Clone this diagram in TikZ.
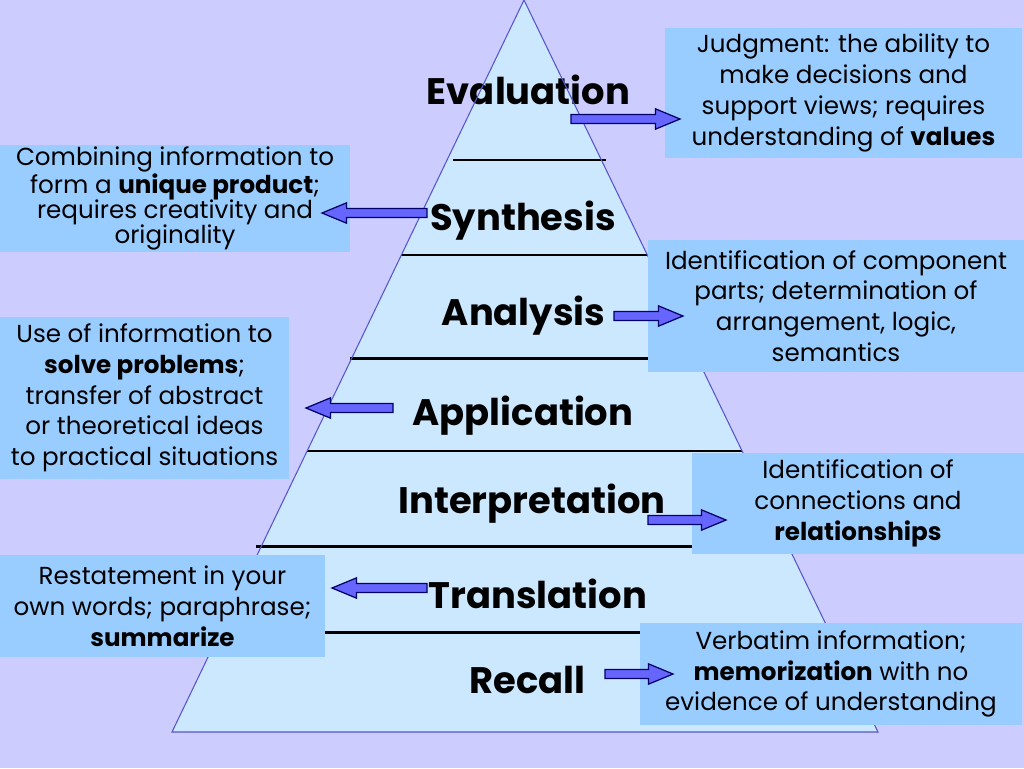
\documentclass[tikz,border=0pt]{standalone}
\usepackage{fontspec}
\setmainfont{Poppins}
\usetikzlibrary{calc}
\definecolor{bgviolet}{RGB}{204,204,255}
\definecolor{pyrblue}{RGB}{204,232,255}
\definecolor{boxblue}{RGB}{153,204,255}
\definecolor{arrowfill}{RGB}{102,102,255}
\definecolor{arrowline}{RGB}{0,0,102}
\definecolor{edgeblue}{RGB}{85,85,204}
\def\blockarrow(#1)(#2){\draw[arrowbody] let \p1=(#1), \p2=(#2), \n1={ifthenelse(\x2>\x1,1,-1)} in (\x1,{\y1+2.6pt}) -- ({\x2-14pt*(\n1)},{\y1+2.6pt}) -- ({\x2-14pt*(\n1)},{\y1+5.8pt}) -- (\x2,\y1) -- ({\x2-14pt*(\n1)},{\y1-5.8pt}) -- ({\x2-14pt*(\n1)},{\y1-2.6pt}) -- (\x1,{\y1-2.6pt}) -- cycle;}
\tikzset{
	infobox/.style={fill=boxblue, inner sep=0pt, align=center, font=\fontsize{14}{17.5}\selectfont},
	level/.style={anchor=base, font=\fontsize{21}{25}\selectfont\bfseries},
	sepline/.style={line width=1.7pt, black},
	arrowbody/.style={fill=arrowfill, draw=arrowline, line width=0.7pt, line join=miter},
}

\begin{document}
\begin{tikzpicture}[x=0.02cm, y=-0.02cm]
			%%%%% START %%%%%
			
			\fill[bgviolet] (0, 0) rectangle (1024, 768);
			\useasboundingbox (0, 0) rectangle (1024, 768);
			
			\fill[pyrblue] (524, 0) -- (878, 732) -- (172, 732) -- cycle;
			
			\draw[sepline] (453, 160) -- (606, 160);
			\draw[sepline, line width=0.8pt] (401, 255) -- (647, 255);
			\draw[sepline] (350, 358) -- (649, 358);
			\draw[sepline, line width=1.2pt] (307, 451) -- (742, 451);
			\draw[sepline] (256, 546) -- (692, 546);
			\draw[sepline] (323, 632) -- (640, 632);
			
			\node[level] (eval) at (528.5, 104) {Evaluation};
			\node[level] (synt) at (523, 230) {Synthesis};
			\node[level] (anal) at (523.5, 325) {Analysis};
			\node[level] (appl) at (523, 425) {Application};
			\node[level] (interp) at (532, 513) {Interpretation};
			\node[level] (transl) at (538, 608) {Translation};
			\node[level] (recall) at (527.5, 693) {Recall};
			
			\draw[edgeblue, line width=0.6pt] (524, 0) -- (878, 732) -- (172, 732) -- cycle;
			
			\node[infobox, minimum width=7.14cm, minimum height=2.6cm] (judg) at (843.5, 93) {Judgment: the ability to\\make decisions and\\support views; requires\\understanding of \textbf{values}};
			\node[infobox, minimum width=7cm, minimum height=2.14cm, font=\fontsize{14}{14.4}\selectfont] (comb) at (175, 198.5) {Combining information to\\form a \textbf{unique product};\\requires creativity and\\originality};
			\node[infobox, minimum width=7.52cm, minimum height=2.64cm] (comp) at (836, 306) {Identification of component\\parts; determination of\\arrangement, logic,\\semantics};
			\node[infobox, minimum width=5.78cm, minimum height=3.24cm] (use) at (144.5, 398) {Use of information to\\\textbf{solve problems};\\transfer of abstract\\or theoretical ideas\\to practical situations};
			\node[infobox, minimum width=6.64cm, minimum height=2.02cm] (conn) at (858, 503.5) {Identification of\\connections and\\\textbf{relationships}};
			\node[infobox, minimum width=6.5cm, minimum height=2.04cm] (rest) at (162.5, 606) {Restatement in your\\own words; paraphrase;\\\textbf{summarize}};
			\node[infobox, minimum width=7.64cm, minimum height=2.04cm] (verb) at (831, 674) {Verbatim information;\\\textbf{memorization} with no\\evidence of understanding};
			
			\coordinate (evalT) at (571, 119);
			\coordinate (evalH) at (680, 119);
			\coordinate (syntT) at (427, 213);
			\coordinate (syntH) at (322, 213);
			\coordinate (analT) at (614, 316);
			\coordinate (analH) at (683, 316);
			\coordinate (applT) at (393, 408);
			\coordinate (applH) at (306, 408);
			\coordinate (interpT) at (648, 520);
			\coordinate (interpH) at (726, 520);
			\coordinate (translT) at (427, 588);
			\coordinate (translH) at (332, 588);
			\coordinate (recallT) at (605, 674);
			\coordinate (recallH) at (673, 674);
			
			\blockarrow(evalT)(evalH)
			\blockarrow(syntT)(syntH)
			\blockarrow(analT)(analH)
			\blockarrow(applT)(applH)
			\blockarrow(interpT)(interpH)
			\blockarrow(translT)(translH)
			\blockarrow(recallT)(recallH)
			
			%%%%% END %%%%%
		\end{tikzpicture}
\end{document}
